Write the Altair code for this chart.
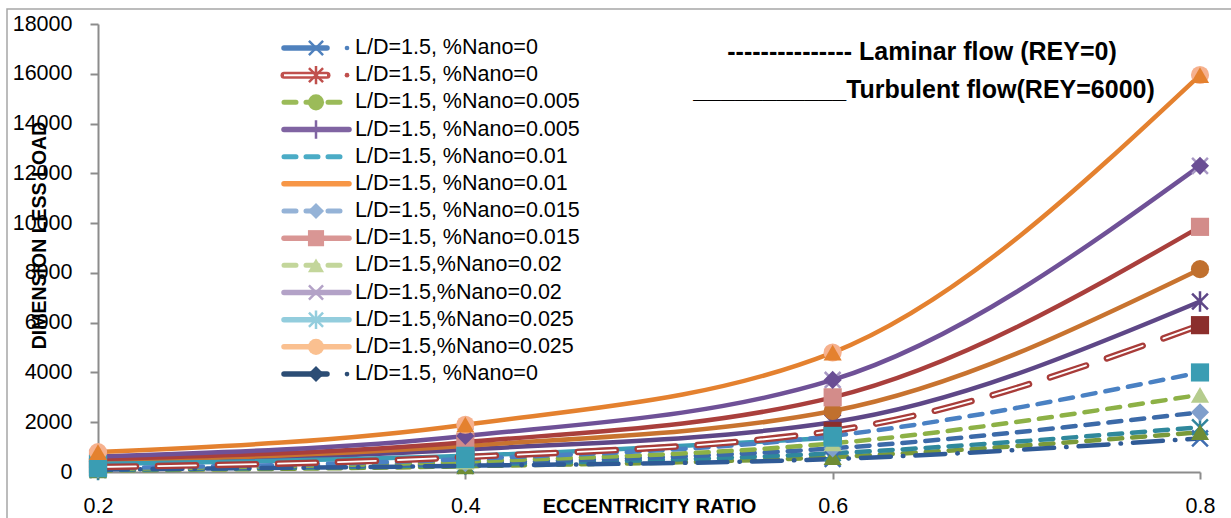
import altair as alt
import pandas as pd

FONT = "Liberation Sans"

# ---------------- data ----------------
X_VALUES = [0.2, 0.4, 0.6, 0.8]
Y_TICKS = [0, 2000, 4000, 6000, 8000, 10000, 12000, 14000, 16000, 18000]

LABELS = [
    "L/D=1.5, %Nano=0",
    "L/D=1.5, %Nano=0",
    "L/D=1.5, %Nano=0.005",
    "L/D=1.5, %Nano=0.005",
    "L/D=1.5, %Nano=0.01",
    "L/D=1.5, %Nano=0.01",
    "L/D=1.5, %Nano=0.015",
    "L/D=1.5, %Nano=0.015",
    "L/D=1.5,%Nano=0.02",
    "L/D=1.5,%Nano=0.02",
    "L/D=1.5,%Nano=0.025",
    "L/D=1.5,%Nano=0.025",
    "L/D=1.5, %Nano=0",
]

# dimensionless load at eccentricity ratio 0.2, 0.4, 0.6, 0.8
LOAD_01 = [100, 250, 520, 1350]
LOAD_02 = [200, 600, 1650, 5900]
LOAD_03 = [60, 230, 600, 1600]
LOAD_04 = [330, 900, 2000, 6850]
LOAD_05 = [80, 300, 750, 1800]
LOAD_06 = [420, 1050, 2450, 8150]
LOAD_07 = [100, 350, 950, 2400]
LOAD_08 = [520, 1200, 3000, 9850]
LOAD_09 = [120, 420, 1150, 3100]
LOAD_10 = [620, 1450, 3700, 12300]
LOAD_11 = [330, 650, 1380, None]
LOAD_12 = [800, 1900, 4800, 15950]
LOAD_13 = [150, 520, 1450, 4000]
LOADS = [LOAD_01, LOAD_02, LOAD_03, LOAD_04, LOAD_05, LOAD_06, LOAD_07,
         LOAD_08, LOAD_09, LOAD_10, LOAD_11, LOAD_12, LOAD_13]

# plot styling per series
PLOT_STYLE = ["dashdot", "double", "dash", "solid", "dash", "solid", "dash",
              "solid", "dash", "solid", "solid", "solid", "dash"]
PLOT_COLOR = ["#2F5A96", "#A83C39", "#7A9A3A", "#5E4787", "#2F889C", "#C8732F",
              "#3C6AA8", "#A93F3C", "#8DB146", "#6F5197", "#3B9DB5", "#E4812F", "#4A81C3"]
PLOT_MARKER = ["x", "square", "triangle-up", "asterisk", "asterisk", "circle", "diamond",
               "square", "triangle-up", "diamond", "square", "circle", "square"]
PLOT_MARKER_COLOR = ["#3F6DB0", "#8B2E2C", "#6F8C34", "#5E4787", "#31859C", "#C0702E",
                     "#7F9FCC", "#D38C8A", "#B5CC8E", "#6A4E94", "#3D9FB5", "#F6B18E", "#3A9DB3"]
EXTRA_MARKER = {9: ("x", "#A898C4"), 11: ("triangle-up", "#E4812F")}

# legend styling (as in the reference legend)
LEGEND_COLOR = ["#4F81BD", "#C0504D", "#9BBB59", "#8064A2", "#4BACC6", "#F79646", "#95B3D7",
                "#D99694", "#C3D69B", "#B3A2C7", "#93CDDD", "#FAC090", "#2C4D75"]
LEGEND_KIND = ["tail", "doubletail", "dash", "solid", "dash", "solid", "dash",
               "solid", "dash", "solid", "solid", "solid", "tail"]
LEGEND_MARKER = ["x", "asterisk", "circle", "plus", "", "", "diamond",
                 "square", "triangle-up", "x", "asterisk", "circle", "diamond"]

ANNOT_LAMINAR = "--------------- Laminar flow (REY=0)"
ANNOT_TURB = "___________Turbulent flow(REY=6000)"

SHAPE_PATHS = {
    "x": "M-1,-1L1,1M-1,1L1,-1",
    "asterisk": "M-1,-1L1,1M-1,1L1,-1M0,-1.3L0,1.3",
    "plus": "M-1.3,0L1.3,0M0,-1.3L0,1.3",
}
STROKED = {"x", "asterisk", "plus"}

# ---------------- tables ----------------
line_rows, mark_rows = [], []
for i, vals in enumerate(LOADS):
    for xv, v in zip(X_VALUES, vals):
        if v is None:
            continue
        line_rows.append(dict(sid=i, x=xv, y=v, lc=PLOT_COLOR[i], style=PLOT_STYLE[i]))
        mk = PLOT_MARKER[i]
        mark_rows.append(dict(sid=i, x=xv, y=v, shape=SHAPE_PATHS.get(mk, mk),
                              mc=PLOT_MARKER_COLOR[i], stroked=mk in STROKED))
for i, (mk, col) in EXTRA_MARKER.items():
    for xv, v in zip(X_VALUES, LOADS[i]):
        if v is None:
            continue
        mark_rows.append(dict(sid=i, x=xv, y=v, shape=SHAPE_PATHS.get(mk, mk),
                              mc=col, stroked=mk in STROKED))
lines_df = pd.DataFrame(line_rows)
marks_df = pd.DataFrame(mark_rows)

legend_df = pd.DataFrame(dict(
    row=list(range(len(LABELS))),
    label=LABELS,
    lc=LEGEND_COLOR,
    kind=LEGEND_KIND,
    mk=[SHAPE_PATHS.get(m, m) for m in LEGEND_MARKER],
    has_mk=[m != "" for m in LEGEND_MARKER],
    mstroked=[m in STROKED for m in LEGEND_MARKER],
))

# ---------------- axes ----------------
x_axis = alt.Axis(values=X_VALUES, format=".1f", grid=False, labelFlush=False,
                  labelFont=FONT, labelFontSize=21.5, labelColor="black",
                  labelBaseline="alphabetic", labelPadding=33,
                  tickSize=7, tickColor="#8c8c8c", tickWidth=2,
                  domainColor="#8c8c8c", domainWidth=2,
                  title="ECCENTRICITY RATIO", titleFont=FONT, titleFontSize=20,
                  titleFontWeight="bold", titleColor="black",
                  titleBaseline="alphabetic", titleY=40, titleX=551)
y_axis = alt.Axis(values=Y_TICKS, format="d", grid=False, labelFlush=False,
                  labelFont=FONT, labelFontSize=21.5, labelColor="black",
                  labelPadding=18, tickSize=8, tickColor="#8c8c8c", tickWidth=2,
                  domainColor="#8c8c8c", domainWidth=2,
                  title="DIMENSION LESS LOAD", titleFont=FONT, titleFontSize=19.5,
                  titleFontWeight="bold", titleColor="black",
                  titleBaseline="alphabetic", titleX=-53, titleY=211)

x_enc = alt.X("x:Q", scale=alt.Scale(domain=[0.2, 0.8], nice=False, zero=False), axis=x_axis)
y_enc = alt.Y("y:Q", scale=alt.Scale(domain=[0, 18000], nice=False), axis=y_axis)

base_lines = alt.Chart(lines_df)


def line_layer(style, **kw):
    return base_lines.transform_filter(f"datum.style == '{style}'").mark_line(
        interpolate="monotone", **kw
    ).encode(x=x_enc, y=y_enc, color=alt.Color("lc:N", scale=None), detail="sid:N")


solid = line_layer("solid", strokeWidth=4.5, strokeCap="round")
dash = line_layer("dash", strokeWidth=4.5, strokeCap="round", strokeDash=[13, 10])
dashdot = line_layer("dashdot", strokeWidth=4.5, strokeCap="round", strokeDash=[30, 12, 0.5, 12])
double_out = line_layer("double", strokeWidth=6.5, strokeCap="round", strokeDash=[38, 22])
double_in = base_lines.transform_filter("datum.style == 'double'").mark_line(
    interpolate="monotone", strokeWidth=1.8, strokeCap="round", strokeDash=[38, 22], color="white"
).encode(x=x_enc, y=y_enc, detail="sid:N")

base_marks = alt.Chart(marks_df)
marks_stroked = base_marks.transform_filter("datum.stroked").mark_point(
    filled=False, strokeWidth=2.5, size=250, opacity=1
).encode(x=x_enc, y=y_enc, shape=alt.Shape("shape:N", scale=None),
         color=alt.Color("mc:N", scale=None))
marks_filled = base_marks.transform_filter("!datum.stroked").mark_point(
    filled=True, size=330, opacity=1
).encode(x=x_enc, y=y_enc, shape=alt.Shape("shape:N", scale=None),
         color=alt.Color("mc:N", scale=None))

# ---------------- legend (drawn by hand) ----------------
leg = alt.Chart(legend_df).transform_calculate(py="24 + datum.row * 27.17")
y_leg = alt.Y("py:Q", scale=None)
lc_enc = alt.Color("lc:N", scale=None)

leg_solid = leg.transform_filter("datum.kind == 'solid'").mark_rule(
    strokeWidth=5.5, strokeCap="round").encode(x=alt.value(186), x2=alt.value(251), y=y_leg, color=lc_enc)
leg_dash = leg.transform_filter("datum.kind == 'dash'").mark_rule(
    strokeWidth=5, strokeCap="round", strokeDash=[12, 10]).encode(
    x=alt.value(186), x2=alt.value(251), y=y_leg, color=lc_enc)
leg_tail = leg.transform_filter("datum.kind == 'tail'").mark_rule(
    strokeWidth=5.5, strokeCap="round").encode(x=alt.value(186), x2=alt.value(229), y=y_leg, color=lc_enc)
leg_dbl = leg.transform_filter("datum.kind == 'doubletail'").mark_rule(
    strokeWidth=7, strokeCap="round").encode(x=alt.value(186), x2=alt.value(229), y=y_leg, color=lc_enc)
leg_dbl_in = leg.transform_filter("datum.kind == 'doubletail'").mark_rule(
    strokeWidth=2, color="white").encode(x=alt.value(186), x2=alt.value(229), y=y_leg)
leg_dot = leg.transform_filter("datum.kind == 'tail' || datum.kind == 'doubletail'").mark_circle(
    size=22, opacity=1).encode(x=alt.value(249), y=y_leg, color=lc_enc)
leg_mk_s = leg.transform_filter("datum.has_mk && datum.mstroked").mark_point(
    filled=False, strokeWidth=2.5, size=200, opacity=1).encode(
    x=alt.value(218), y=y_leg, shape=alt.Shape("mk:N", scale=None), color=lc_enc)
leg_mk_f = leg.transform_filter("datum.has_mk && !datum.mstroked").mark_point(
    filled=True, size=260, opacity=1).encode(
    x=alt.value(218), y=y_leg, shape=alt.Shape("mk:N", scale=None), color=lc_enc)
leg_text = leg.mark_text(align="left", baseline="middle", font=FONT, fontSize=21.5,
                         color="black").encode(x=alt.value(257), y=y_leg, text="label:N")

# ---------------- annotations & frame ----------------
one = alt.Chart(pd.DataFrame({"k": [0]}))
ann1 = one.mark_text(align="center", baseline="alphabetic", font=FONT, fontSize=25,
                     fontWeight="bold", color="black", text=ANNOT_LAMINAR).encode(
    x=alt.value(824), y=alt.value(36))
ann2 = one.mark_text(align="center", baseline="alphabetic", font=FONT, fontSize=25,
                     fontWeight="bold", color="black", text=ANNOT_TURB).encode(
    x=alt.value(826), y=alt.value(74))
frame = one.mark_rect(fillOpacity=0, stroke="#a6a6a6", strokeWidth=1.5).encode(
    x=alt.value(-91), x2=alt.value(1160), y=alt.value(-15), y2=alt.value(520))

chart = alt.layer(
    frame,
    solid, dash, dashdot, double_out, double_in,
    marks_stroked, marks_filled,
    leg_solid, leg_dash, leg_tail, leg_dbl, leg_dbl_in, leg_dot, leg_mk_s, leg_mk_f, leg_text,
    ann1, ann2,
).properties(
    width=1102, height=448,
    autosize=alt.AutoSizeParams(type="none"),
    padding={"left": 98, "top": 24, "right": 31, "bottom": 46},
    background="white",
).configure_view(strokeWidth=0)

chart.save("out.html", embed_options={"renderer": "svg", "actions": False})
